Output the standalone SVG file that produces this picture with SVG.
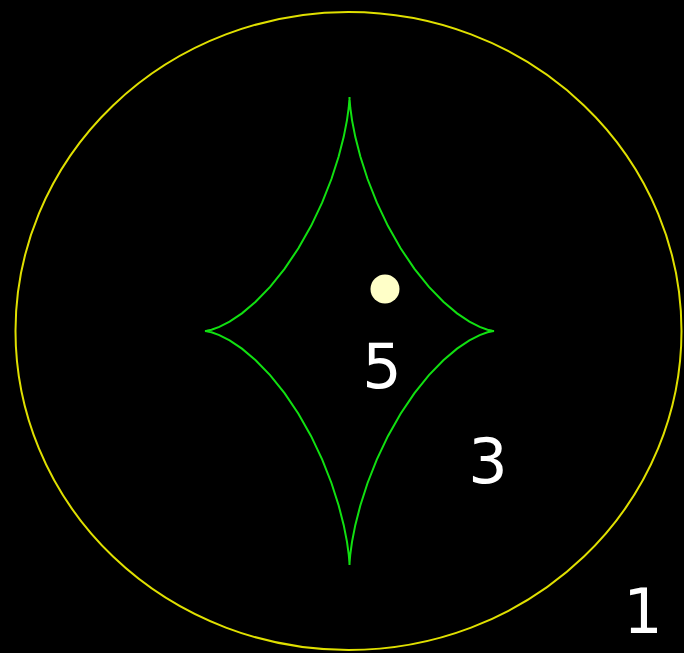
<svg xmlns="http://www.w3.org/2000/svg" width="684" height="653" viewBox="0 0 684 653">
<style>
.lbl{font-family:"DejaVu Sans","Liberation Sans",sans-serif;font-size:62px;fill:#ffffff;text-anchor:middle}
</style>
<rect x="0" y="0" width="684" height="653" fill="#000000"/>
<g id="circle">
<ellipse cx="348.5" cy="331" rx="333" ry="319" fill="none" stroke="#e0e000" stroke-width="2"/>
</g>
<g id="astroid">
<path fill="none" stroke="#11e011" stroke-width="2" stroke-linejoin="miter" d="M494,331 L492.36,330.84 487.51,329.77 479.73,326.94 469.4,321.64 457.07,313.34 443.36,301.75 428.93,286.84 414.46,268.85 400.59,248.27 387.88,225.81 376.77,202.38 367.56,179.01 360.41,156.8 355.28,136.84 352.01,120.11 350.26,107.5 349.6,99.66 349.5,97 349.4,99.66 348.74,107.5 346.99,120.11 343.72,136.84 338.59,156.8 331.44,179.01 322.23,202.38 311.12,225.81 298.41,248.27 284.54,268.85 270.07,286.84 255.64,301.75 241.93,313.34 229.6,321.64 219.27,326.94 211.49,329.77 206.64,330.84 205,331 206.64,331.16 211.49,332.23 219.27,335.06 229.6,340.36 241.93,348.66 255.64,360.25 270.07,375.16 284.54,393.15 298.41,413.73 311.12,436.19 322.23,459.62 331.44,482.99 338.59,505.2 343.72,525.16 346.99,541.89 348.74,554.5 349.4,562.34 349.5,565 349.6,562.34 350.26,554.5 352.01,541.89 355.28,525.16 360.41,505.2 367.56,482.99 376.77,459.62 387.88,436.19 400.59,413.73 414.46,393.15 428.93,375.16 443.36,360.25 457.07,348.66 469.4,340.36 479.73,335.06 487.51,332.23 492.36,331.16 Z"/>
</g>
<g id="dot">
<circle cx="385" cy="289" r="14.5" fill="#ffffc8"/>
</g>
<g id="labels">
<text class="lbl" x="382" y="388">5</text>
<text class="lbl" x="488" y="483">3</text>
<text class="lbl" x="643" y="633">1</text>
</g>
</svg>
